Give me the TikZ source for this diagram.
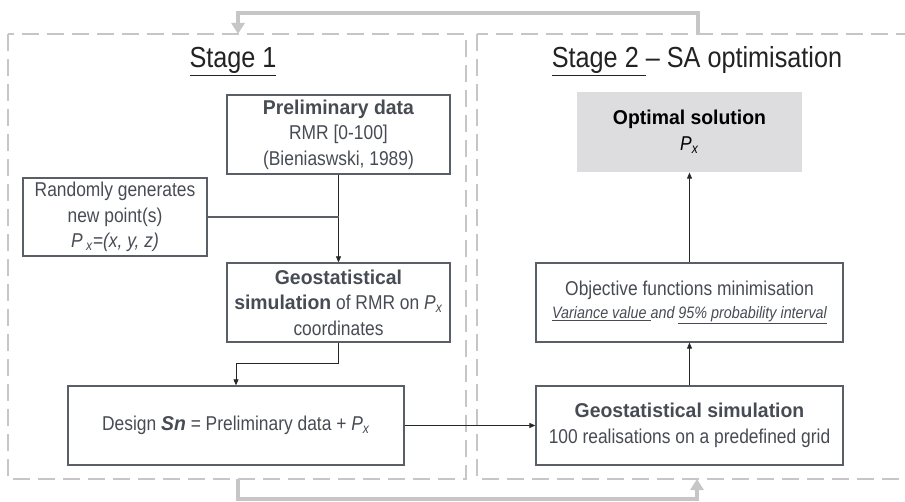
\documentclass[tikz,border=0pt]{standalone}
\usepackage{fontspec}
\setmainfont{Liberation Sans}[FakeStretch=0.87, BoldFeatures={FakeStretch=0.97}, BoldItalicFeatures={FakeStretch=0.97}]
\usetikzlibrary{arrows.meta}
\definecolor{txt}{HTML}{474B53}
\definecolor{bord}{HTML}{5A5E66}
\definecolor{framec}{HTML}{C6C6C6}
\definecolor{solfill}{HTML}{DDDDDF}
\definecolor{titlec}{HTML}{222222}
\newcommand\Px{\textit{P}\textsubscript{\textit{x}}}
\tikzset{
  stagebox/.style={draw=framec, line width=2pt, dash pattern=on 17pt off 8pt},
  feedback/.style={draw=framec, line width=3.2pt, -{Triangle[length=11pt,width=13pt]}},
  box/.style={draw=bord, line width=1.3pt, align=center, text=txt, inner sep=2pt,
    font=\fontsize{20}{25.5}\selectfont},
  conn/.style={draw=black!85, line width=0.8pt, -{Triangle[length=6pt,width=5pt]}},
  stagetitle/.style={text=titlec, font=\fontsize{29}{34}\selectfont, inner sep=0pt, anchor=base}
}
\begin{document}
\begin{tikzpicture}[x=1pt,y=-1pt]
\useasboundingbox (0,0) rectangle (905,502);

% stage frames
\draw[stagebox] (8,34) rectangle (466,479);
\draw[stagebox] (477,34) rectangle (925,479);

% titles
\node[stagetitle] (t1) at (233,68) {\underline{Stage 1}};
\node[stagetitle] (t2) at (697,68) {\underline{Stage 2 }– SA optimisation};

% boxes
\node[box, minimum width=223pt, minimum height=79pt] (prelim) at (338.5,134.5)
  {\textbf{Preliminary data}\\RMR [0-100]\\(Bieniaswski, 1989)};
\node[box, minimum width=184pt, minimum height=78pt] (rand) at (115,217)
  {Randomly generates\\new point(s)\\\textit{P\,}\textsubscript{\textit{x}}\textit{=(x, y, z)}};
\node[box, minimum width=223pt, minimum height=79pt] (geo1) at (338.5,302.5)
  {\textbf{Geostatistical}\\\textbf{simulation} of RMR on \Px\\coordinates};
\node[box, minimum width=336pt, minimum height=79pt] (design) at (236,425.5)
  {Design \textbf{\textit{Sn}} = Preliminary data + \Px};
\node[box, minimum width=307pt, minimum height=79pt] (geo2) at (689.5,425.5)
  {\textbf{Geostatistical simulation}\\100 realisations on a predefined grid};
\node[box, minimum width=307pt, minimum height=79pt] (obj) at (689.5,302.5)
  {Objective functions minimisation\\[-3pt]{\fontsize{16.5}{20}\selectfont\textit{\underline{Variance value }and \underline{95\% probability interval}}}};
\node[box, draw=none, fill=solfill, text=black, minimum width=225pt, minimum height=80pt] (opt) at (689.5,132)
  {\textbf{Optimal solution}\\\Px};

% connectors
\draw[conn] (prelim.south) -- (geo1.north);
\draw[draw=bord, line width=1.5pt] (rand.east) coordinate (re) -- (re -| prelim.south);
\draw[conn] (geo1.south) -- ++(0,21) -| (design.north);
\draw[conn] (design.east) -- (geo2.west);
\draw[conn] (geo2.north) -- (obj.south);
\draw[conn] (obj.north) -- (opt.south);

% feedback loops
\coordinate (topR) at (698,34);
\coordinate (topL) at (238,34);
\coordinate (botL) at (238,479);
\coordinate (botR) at (697,479);
\draw[feedback] (topR) -- (698,13) -| (topL);
\draw[feedback] (botL) -- (238,499) -| (botR);
\end{tikzpicture}
\end{document}
